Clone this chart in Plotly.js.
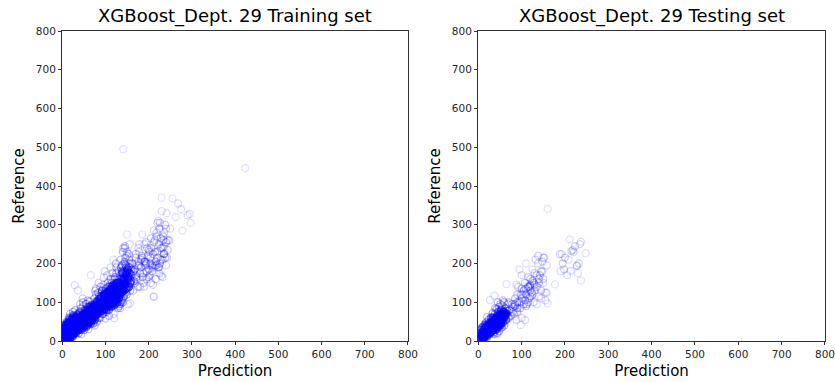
<!DOCTYPE html>
<html>
<head>
<meta charset="utf-8">
<script src="https://cdn.plot.ly/plotly-3.0.1.min.js"></script>
<style>
  html, body { margin: 0; padding: 0; background: #ffffff; }
  #chart { width: 835px; height: 382px; }
</style>
</head>
<body>
<div id="chart"></div>
<script>
// Training set: predicted vs. reference values (Dept. 29)
const trainPredLow = [1,2,3,4,5,6,7,8,9,10,11,12,13,14,15,16,17,18,19,20,21,22,23,24,25,26,27,28,29,30,
  2,4,6,8,10,12,14,16,18,20,22,24,26,28,30,
  3,5,7,9,11,13,15,17,19,21,23,25,27,29,
  1,4,7,10,13,16,19,22,25,28,
  5,10,15,20,25,30,12,18,24,8];
const trainRefLow = [4,10,2,16,7,22,12,30,5,18,26,9,35,14,40,20,8,28,45,16,32,50,24,12,38,55,20,44,30,60,
  20,28,12,36,24,6,46,30,15,52,40,22,62,34,48,
  9,30,20,42,14,34,25,56,10,44,30,18,50,38,
  12,8,24,4,28,14,36,20,66,26,
  40,48,60,35,75,80,44,70,58,35];

const trainPredMid = [31,32,33,34,35,36,37,38,39,40,41,42,43,44,45,46,47,48,49,50,51,52,53,54,55,56,57,58,59,60,61,62,63,64,65,66,67,68,69,70,
  29,36,38,41,44,47,50,53,56,59,62,66,68,
  34,40,46,52,58,64,70,36,48,60,
  42,46,50,54,58,62,66,70,74,78,82,86,90,94,98,102,106,110,114,118,122,126,130,
  44,52,60,68,76,84,92,100,108,116,124,
  48,56,64,72,80,88,96,104,112,120,128];
const trainRefMid = [40,22,56,35,68,28,50,44,72,30,60,48,84,38,55,66,42,90,52,35,70,58,80,46,96,62,40,74,55,88,50,68,102,60,78,45,92,64,85,70,
  144,131,20,95,18,110,28,65,36,105,48,170,52,
  62,75,58,48,70,82,58,45,100,30,
  45,52,60,55,68,62,75,70,82,78,88,85,95,92,102,98,110,105,118,112,125,120,130,
  30,40,48,56,62,72,78,85,92,100,108,
  68,78,88,92,102,110,118,125,135,142,150];

const trainPredBand = [71,72,73,74,75,76,77,78,79,80,81,82,83,84,85,86,87,88,89,90,91,92,93,94,95,96,97,98,99,100,
  101,102,103,104,105,106,107,108,109,110,111,112,113,114,115,116,117,118,119,120,121,122,123,124,125,126,127,128,129,130,
  72,76,80,84,88,92,96,100,104,108,112,116,120,124,128,
  75,85,95,105,115,125,78,98,118,
  100,104,108,112,116,120,124,128,132,136,140,144,148,152,156,160,
  102,110,118,126,134,142,150,158,106,114,122,130,138,146,154];
const trainRefBand = [62,88,75,110,55,95,80,120,68,100,85,72,125,92,60,108,98,140,78,115,88,130,70,105,145,95,82,122,110,100,
  135,75,118,90,150,108,125,65,140,98,120,160,88,132,112,175,100,145,70,125,160,95,138,115,190,105,150,128,85,140,
  45,130,50,150,60,100,165,58,170,80,190,90,59,200,100,
  40,115,70,125,95,175,135,180,210,
  120,105,130,115,140,125,150,135,160,145,175,160,190,165,200,185,
  80,90,100,110,120,130,140,150,140,150,165,180,195,215,225];

const trainPredHigh = [131,132,133,134,135,136,137,138,139,140,141,142,143,144,145,146,147,148,149,150,151,152,153,154,155,156,157,158,159,160,
  132,135,138,141,144,147,150,153,156,
  140,145,150,155,134,141,
  130,133,136,139,142,145,148,151,154,157,135,141,147,153,138,144,150];
const trainRefHigh = [110,150,95,170,125,190,140,105,160,230,130,180,115,200,245,150,170,135,120,275,185,95,160,140,210,175,130,190,155,170,
  90,210,175,240,145,195,220,165,250,
  100,240,180,140,85,495,
  120,135,150,128,160,145,175,160,190,150,100,112,125,138,180,205,230];

const trainPredUpper = [162,165,168,170,172,175,178,180,182,185,188,190,192,195,198,200,
  164,170,176,182,189,194,200,166,178,190,157,211,229,
  202,204,206,208,210,212,214,216,218,220,222,224,226,228,230,232,234,236,238,240,242,244,
  205,210,215,220,225,230,235,240,212,222,232,218,228,238,
  168,172,176,180,184,188,192,196,200,204,208,212,216,220,224,228,232,236,240,244,
  170,178,186,194,202,210,218,226,234,242,175,185,195,205,215,225,235,
  248,255,262,268,275,278,290,295,297,250,423];
const trainRefUpper = [200,180,150,215,165,195,230,140,210,275,175,250,205,160,220,185,
  130,170,240,190,140,200,235,155,250,205,97,114,168,
  170,215,240,195,225,115,260,205,280,230,190,250,305,210,335,240,270,225,300,255,330,260,
  150,190,230,305,175,370,245,290,285,310,165,195,265,215,
  185,160,205,175,220,150,195,240,165,200,180,255,160,215,190,240,210,280,195,235,
  225,195,165,255,230,145,270,200,260,215,140,215,180,265,195,290,225,
  260,368,320,355,340,285,325,328,305,290,446];

// Testing set: predicted vs. reference values (Dept. 29)
const testPredLow = [1,2,3,4,5,6,7,8,9,10,11,12,13,14,15,16,17,18,19,20,22,24,26,28,30,
  3,6,9,12,15,18,21,24,27,30,5,10,15,20,25,
  31,32,33,34,35,36,37,38,39,40,41,42,43,44,45,46,47,48,49,50,51,52,53,54,55,56,57,58,59,60,62,64,66,68,70,
  33,36,39,42,45,48,51,54,57,60,63,65,37,27,65,44,55,70,
  20,25,30,35,40,45,50,55,60,38,42,46,50,54,58,62,28,34,48,52];
const testRefLow = [3,8,2,12,5,16,9,20,4,14,25,7,18,30,11,22,35,15,40,26,18,45,30,22,50,
  20,28,35,10,42,48,12,55,38,60,30,6,25,62,40,
  28,45,35,60,22,52,40,70,30,58,48,82,38,65,55,75,42,88,62,50,70,45,80,58,92,66,48,75,100,62,85,55,78,95,60,
  72,18,85,30,100,25,95,35,105,40,70,147,117,106,70,20,65,100,
  30,38,45,50,55,60,65,70,75,35,40,45,50,55,60,70,22,28,38,42];

const testPredHigh = [72,75,78,80,83,85,88,90,92,98,97,100,102,108,108,110,112,115,118,120,123,125,128,130,132,135,138,140,142,145,148,150,152,155,160,158,
  85,90,95,100,105,110,115,120,125,130,135,140,145,150,155,88,98,108,118,128,138,148,158,160,
  80,85,90,95,100,105,110,115,120,125,130,135,140,145,150,90,100,110,120,
  177,188,190,192,195,200,205,213,211,215,218,220,223,227,228,230,232,235,237,237,248,198,208];
const testRefHigh = [80,65,95,88,70,110,55,100,140,41,85,170,120,54,150,135,95,165,110,145,125,185,150,130,210,140,220,115,170,130,205,150,215,105,97,195,
  95,75,185,60,130,200,100,160,120,175,95,160,110,215,125,145,120,105,140,100,200,180,125,341,
  75,90,85,100,110,95,120,140,130,155,145,170,150,180,160,120,135,90,115,
  146,224,180,225,200,215,170,181,262,232,235,230,245,194,195,175,200,250,256,156,226,185,210];

const tickVals = [0,100,200,300,400,500,600,700,800];

const trainPred = [].concat(trainPredLow, trainPredMid, trainPredBand, trainPredHigh, trainPredUpper);
const trainRef  = [].concat(trainRefLow,  trainRefMid,  trainRefBand,  trainRefHigh,  trainRefUpper);
const testPred  = [].concat(testPredLow, testPredHigh);
const testRef   = [].concat(testRefLow,  testRefHigh);

// Faint open circles pile up into a solid blob where points crowd together.
// Count each marker's neighbours and shade it accordingly.
function neighbourCounts(xs, ys) {
  const r = 17;
  return xs.map((x, i) => {
    let n = 0;
    for (let j = 0; j < xs.length; j++) {
      if (j === i) continue;
      const dx = xs[j] - x, dy = ys[j] - ys[i];
      if (dx * dx + dy * dy < r * r) n++;
    }
    return n;
  });
}

// Sparse points: pale rings. Crowded points: a filled layer underneath.
function layers(xs, ys, xa, ya) {
  const counts = neighbourCounts(xs, ys);
  const idx = xs.map((_, i) => i).filter(i => counts[i] >= 16);
  const fill = {
    type: 'scatter', mode: 'markers', xaxis: xa, yaxis: ya,
    x: idx.map(i => xs[i]), y: idx.map(i => ys[i]),
    hoverinfo: 'skip', showlegend: false,
    marker: {
      symbol: 'circle', size: 9, color: '#0000ff',
      opacity: idx.map(i => Math.min(1, 0.25 + 0.035 * (counts[i] - 16))),
      line: { width: 0 }
    }
  };
  const rings = {
    type: 'scatter', mode: 'markers', x: xs, y: ys, xaxis: xa, yaxis: ya,
    hoverinfo: 'skip', showlegend: false,
    marker: {
      symbol: 'circle-open', size: 7, color: '#0000ff',
      opacity: counts.map(n => Math.min(0.4, 0.12 + 0.02 * n)),
      line: { width: 1.3, color: '#0000ff' }
    }
  };
  return [fill, rings];
}

const font = { family: 'DejaVu Sans, sans-serif', color: '#000000' };

function xAxis(domain, anchor) {
  return {
    domain: domain, anchor: anchor, range: [0, 800], autorange: false,
    tickmode: 'array', tickvals: tickVals, ticktext: tickVals.map(String),
    ticks: 'outside', ticklen: 3.5, tickwidth: 0.8, tickcolor: '#000',
    ticklabeloverflow: 'allow',
    showline: true, mirror: true, linecolor: '#000', linewidth: 0.8,
    showgrid: false, zeroline: false,
    tickfont: { family: font.family, size: 10.5, color: '#262626' },
    title: { text: 'Prediction', font: { family: font.family, size: 15, color: '#000' }, standoff: 6 }
  };
}
function yAxis(anchor) {
  return {
    domain: [0.1073, 0.9188], anchor: anchor, range: [0, 800], autorange: false,
    tickmode: 'array', tickvals: tickVals, ticktext: tickVals.map(String),
    ticks: 'outside', ticklen: 3.5, tickwidth: 0.8, tickcolor: '#000',
    showline: true, mirror: true, linecolor: '#000', linewidth: 0.8,
    showgrid: false, zeroline: false,
    tickfont: { family: font.family, size: 10.5, color: '#262626' },
    title: { text: 'Reference', font: { family: font.family, size: 15, color: '#000' }, standoff: 7 }
  };
}

const layout = {
  width: 835, height: 382,
  margin: { l: 0, r: 0, t: 0, b: 0 },
  paper_bgcolor: '#ffffff', plot_bgcolor: '#ffffff',
  font: font,
  xaxis: xAxis([0.0746, 0.4886], 'y'),
  yaxis: yAxis('x'),
  xaxis2: xAxis([0.5728, 0.988], 'y2'),
  yaxis2: yAxis('x2'),
  annotations: [
    { text: 'XGBoost_Dept. 29 Training set', xref: 'paper', yref: 'paper',
      x: 0.2816, y: 0.925, xanchor: 'center', yanchor: 'bottom', showarrow: false,
      font: { family: font.family, size: 18, color: '#000' } },
    { text: 'XGBoost_Dept. 29 Testing set', xref: 'paper', yref: 'paper',
      x: 0.7804, y: 0.925, xanchor: 'center', yanchor: 'bottom', showarrow: false,
      font: { family: font.family, size: 18, color: '#000' } }
  ]
};

Plotly.newPlot('chart',
  [].concat(layers(trainPred, trainRef, 'x', 'y'), layers(testPred, testRef, 'x2', 'y2')),
  layout, { displayModeBar: false, staticPlot: true });
</script>
</body>
</html>
